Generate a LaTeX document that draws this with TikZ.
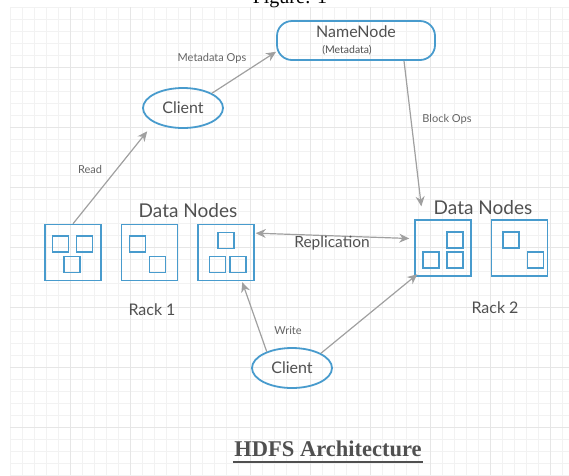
\documentclass[tikz,border=0pt]{standalone}
\usepackage{fontspec}
\setmainfont{Lato}
\newfontfamily\titlefont{Liberation Serif}
\usepackage{xcolor}
\usetikzlibrary{positioning,arrows.meta,shapes.geometric,calc}
\definecolor{hblue}{RGB}{72,155,205}
\definecolor{arrgray}{RGB}{160,160,160}
\definecolor{txtgray}{RGB}{100,100,100}
\definecolor{dktext}{RGB}{80,80,80}
\definecolor{gridfine}{RGB}{242,242,242}
\definecolor{gridmajor}{RGB}{230,230,230}
\tikzset{
client/.style={
draw=hblue,
line width=1.8pt,
ellipse,
minimum width=80pt,
minimum height=40pt,
inner sep=0pt,
text=dktext,
font=\fontsize{16}{18}\selectfont
},
namenode/.style={
draw=hblue,
line width=1.8pt,
rounded corners=15pt,
minimum width=158pt,
minimum height=39pt,
align=center,
inner sep=0pt,
text=dktext,
font=\fontsize{16}{18}\selectfont
},
dnode/.style={
draw=hblue,
line width=1.5pt,
minimum size=56pt,
inner sep=0pt
},
blk/.style={
draw=hblue,
line width=1.4pt,
minimum size=16pt,
inner sep=0pt
},
lbl/.style={
text=txtgray,
font=\fontsize{11}{13}\selectfont
},
biglbl/.style={
text=dktext,
font=\fontsize{19}{22}\selectfont
},
racklbl/.style={
text=dktext,
font=\fontsize{16}{18}\selectfont
},
arrow/.style={
-{Stealth[length=10pt,width=9pt]},
draw=arrgray,
line width=1.2pt
}
}
\begin{document}
\begin{tikzpicture}[x=1pt,y=-1pt,node distance=19pt]
\useasboundingbox (0,0) rectangle (569,475);
% grid paper
\foreach \x in {10,22,...,569}
\draw[gridfine,line width=0.5pt](\x,7)--(\x,475);
\foreach \y in {7,19,...,475}
\draw[gridfine,line width=0.5pt](10,\y)--(569,\y);
\foreach \x in {70,130,...,569}
\draw[gridmajor,line width=0.6pt](\x,7)--(\x,475);
\foreach \y in {67,127,...,475}
\draw[gridmajor,line width=0.6pt](10,\y)--(569,\y);
\begin{scope}
\clip (0,0) rectangle (569,475);
\node[anchor=base,font=\titlefont\fontsize{20}{24}\selectfont](fig) at (290,3){Figure: 1};
\end{scope}

\node[namenode](nn) at (356,40.5){NameNode\\[-2pt]\hspace*{-18pt}{\fontsize{10.5}{12}\selectfont (Metadata)}};
\node[client](cl1) at (183,108){Client};
\node[client](cl2) at (292,368){Client};

% rack 1
\node[dnode](r1a) at (73,252.5){};
\node[dnode,right=of r1a](r1b){};
\node[dnode,right=of r1b](r1c){};
% rack 2
\node[dnode](r2a) at (443,248){};
\node[dnode,right=of r2a](r2b){};

% blocks
\node[blk] at ($(r1a)+(-12.5,-8.5)$){};
\node[blk] at ($(r1a)+(11.5,-8.5)$){};
\node[blk] at ($(r1a)+(-1,12)$){};
\node[blk] at ($(r1b)+(-12,-8.5)$){};
\node[blk] at ($(r1b)+(8,12)$){};
\node[blk] at ($(r1c)+(0,-12)$){};
\node[blk] at ($(r1c)+(-8.5,12)$){};
\node[blk] at ($(r1c)+(12,12)$){};
\node[blk] at ($(r2a)+(12,-8)$){};
\node[blk] at ($(r2a)+(-12,12)$){};
\node[blk] at ($(r2a)+(12,12)$){};
\node[blk] at ($(r2b)+(-8.5,-8)$){};
\node[blk] at ($(r2b)+(16,12)$){};

\node[biglbl](dn1) at (188,211){Data Nodes};
\node[biglbl](dn2) at (483,208){Data Nodes};
\node[racklbl](rk1) at (152,310){Rack 1};
\node[racklbl](rk2) at (495,308){Rack 2};

% connectors
\draw[arrow](cl1.north east)--(nn.188);
\draw[arrow,shorten >=13pt]($(nn.south)+(48,0)$)--($(r2a.north west)!0.3!(r2a.north)$);
\draw[arrow,shorten >=11pt](r1a.north)--(cl1.south west);
\draw[arrow,{Stealth[length=10pt,width=9pt]}-{Stealth[length=10pt,width=9pt]},shorten <=1pt,shorten >=5pt](r1c.34)--(r2a.162);
\draw[arrow,shorten >=1pt](cl2.147)--(r1c.-61);
\draw[arrow,shorten >=-4pt](cl2.27)--(r2a.south west);

\node[lbl](mo) at (212,58){Metadata Ops};
\node[lbl](bo) at (447,119){Block Ops};
\node[lbl](rd) at (90,169){Read};
\node[lbl](wr) at (288,331){Write};
\node[text=dktext,font=\fontsize{15.5}{18}\selectfont](rep) at (332,243){Replication};

% title
\node[anchor=base,text=dktext,font=\titlefont\bfseries\fontsize{22.5}{26}\selectfont](title) at (328,456){HDFS Architecture};
\draw[dktext,line width=1.3pt]($(title.base west)+(2,6)$)--($(title.base east)+(-2,6)$);
\end{tikzpicture}
\end{document}
